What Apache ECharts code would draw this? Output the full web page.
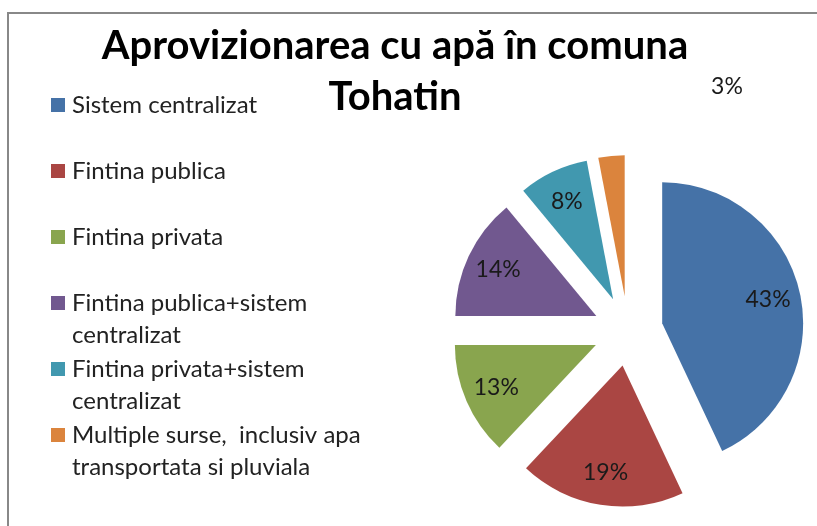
<!DOCTYPE html>
<html>
<head>
<meta charset="utf-8">
<script src="https://cdn.jsdelivr.net/npm/echarts@6/dist/echarts.min.js"></script>
<style>
  html, body { margin: 0; padding: 0; background: #fff; }
  #chart { width: 817px; height: 526px; }
</style>
</head>
<body>
<div id="chart"></div>
<script>
// date
const categories = [
  'Sistem centralizat',
  'Fintina publica',
  'Fintina privata',
  'Fintina publica+sistem\ncentralizat',
  'Fintina privata+sistem\ncentralizat',
  'Multiple surse,  inclusiv apa\ntransportata si pluviala'
];
const values = [43, 19, 13, 14, 8, 3];
const colors = ['#4572A7', '#AA4643', '#89A54E', '#71588F', '#4198AF', '#DB843D'];

const FONT = 'Lato, "Open Sans", sans-serif';
const pieCenter = [628, 331];
const pieRadius = 141;
const explode = 35;

const chart = echarts.init(document.getElementById('chart'));

const pieData = categories.map((name, i) => ({
  name: name,
  value: values[i],
  selected: true,
  itemStyle: { color: colors[i] }
}));

// legenda: toate elementele au 3 randuri, iconita pe randul din mijloc
function legendText (name) {
  return name.indexOf('\n') >= 0 ? '\n' + name : '\n' + name + '\n';
}

const option = {
  backgroundColor: '#fff',
  animation: false,
  title: {
    text: 'Aprovizionarea cu apă în comuna\nTohatin',
    left: 395,
    top: 21,
    textAlign: 'center',
    padding: 0,
    textStyle: {
      fontFamily: FONT,
      fontWeight: 'bold',
      fontSize: 40,
      lineHeight: 51,
      color: '#000'
    }
  },
  legend: {
    orient: 'vertical',
    left: 51,
    top: 57,
    padding: 0,
    itemWidth: 14,
    itemHeight: 14,
    itemGap: -30,
    icon: 'rect',
    selectedMode: false,
    data: categories,
    formatter: legendText,
    textStyle: {
      fontFamily: FONT,
      fontSize: 24,
      lineHeight: 32,
      color: '#222',
      padding: [0, 0, 0, 2]
    }
  },
  graphic: [{
    type: 'rect',
    shape: { x: 8, y: 13, width: 830, height: 540 },
    style: { fill: 'none', stroke: '#888', lineWidth: 2 },
    silent: true
  }, {
    // eticheta 3% din afara, ca in original
    type: 'text',
    x: 727,
    y: 87,
    silent: true,
    style: {
      text: values[5] + '%',
      fontFamily: FONT,
      fontSize: 23,
      fill: '#1a1a1a',
      align: 'center',
      verticalAlign: 'middle'
    }
  }],
  series: [
    {
      type: 'pie',
      center: pieCenter,
      radius: [0, pieRadius],
      selectedMode: 'multiple',
      selectedOffset: explode,
      startAngle: 90,
      clockwise: true,
      label: { show: false },
      labelLine: { show: false },
      emphasis: { scale: false },
      data: pieData
    },
    {
      // serie transparenta doar pentru etichete
      type: 'pie',
      center: pieCenter,
      radius: [70, pieRadius],
      selectedMode: 'multiple',
      selectedOffset: explode,
      startAngle: 90,
      clockwise: true,
      silent: true,
      legendHoverLink: false,
      itemStyle: { color: 'rgba(0,0,0,0)' },
      label: {
        show: true,
        position: 'inside',
        fontFamily: FONT,
        fontSize: 23,
        color: '#1a1a1a',
        formatter: p => p.dataIndex === 5 ? '' : p.value + '%'
      },
      labelLine: { show: false },
      data: categories.map((name, i) => ({ name: name, value: values[i], selected: true }))
    }
  ]
};

chart.setOption(option);
</script>
</body>
</html>
